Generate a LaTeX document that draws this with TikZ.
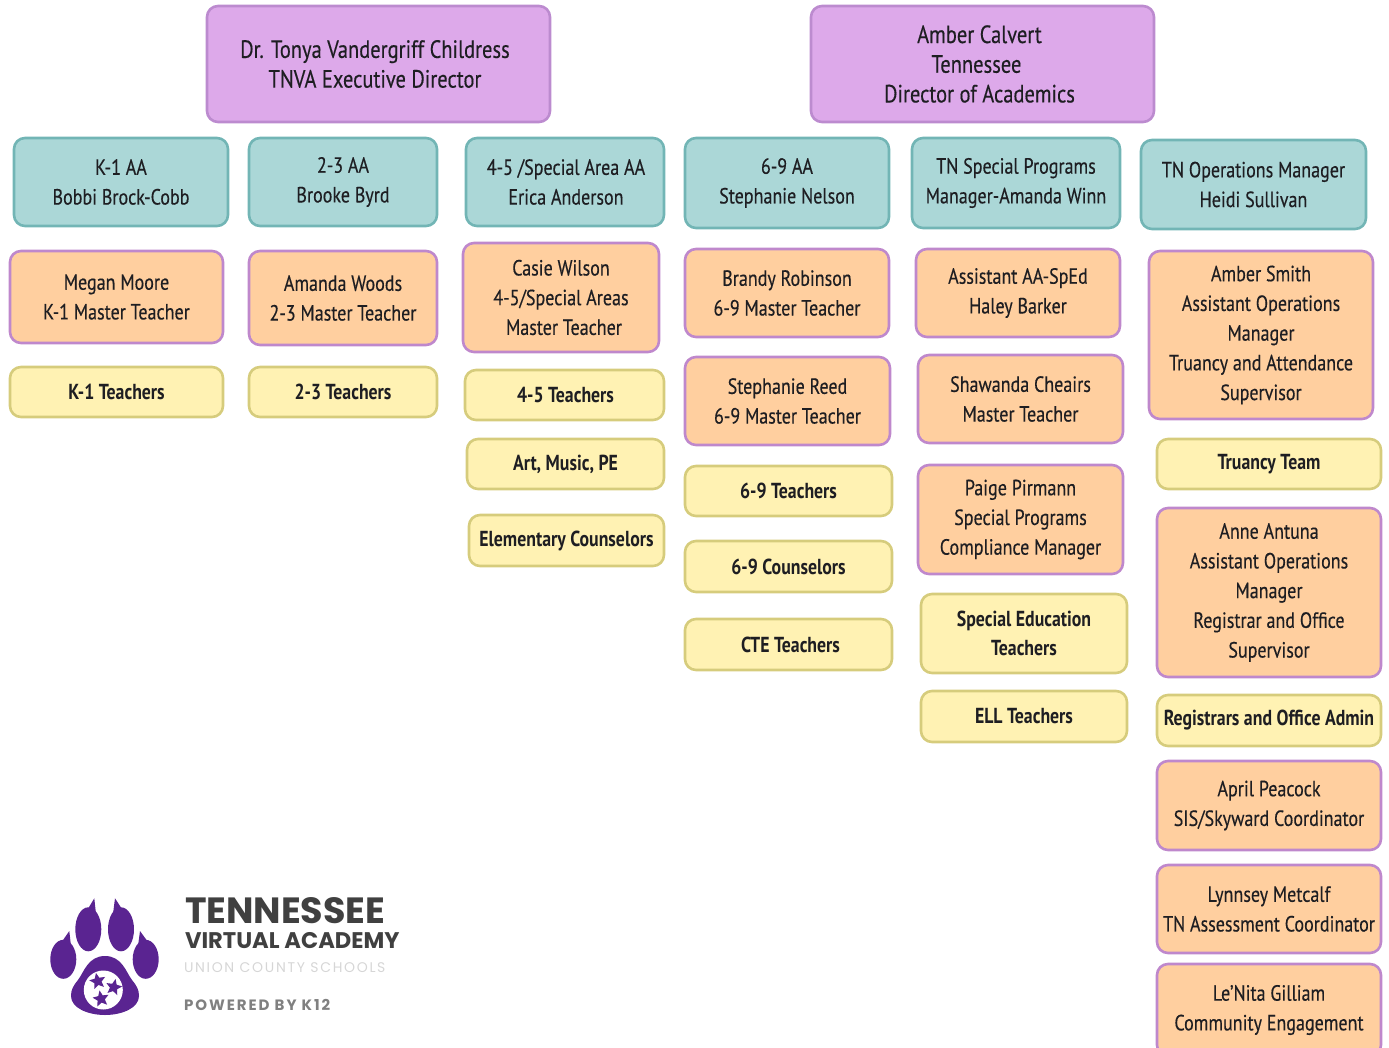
\documentclass[tikz,border=0pt]{standalone}
\usepackage{fontspec}
\setmainfont[FakeStretch=0.82,UprightFeatures={FakeBold=0.3}]{PT Sans}
\newfontfamily\logofont{Poppins}
\usetikzlibrary{shapes.geometric}
\definecolor{tealf}{HTML}{ABD7D7}\definecolor{teald}{HTML}{72B5B5}
\definecolor{oranf}{HTML}{FFCF9F}\definecolor{orand}{HTML}{BF88CC}
\definecolor{yelf}{HTML}{FFF2B3}\definecolor{yeld}{HTML}{D6CC7C}
\definecolor{purf}{HTML}{DDA9EA}\definecolor{purd}{HTML}{BC8BCF}
\definecolor{txt}{HTML}{1E1E22}\definecolor{paw}{HTML}{5A2491}
\tikzset{
 card/.style={rounded corners=11pt,line width=2.6pt,inner sep=0pt,outer sep=0pt,align=center,text=txt,
   font=\fontsize{22}{29.7}\selectfont},
 topcard/.style={card,fill=purf,draw=purd,font=\fontsize{25}{29.7}\selectfont},
 aacard/.style={card,fill=tealf,draw=teald},
 mtcard/.style={card,fill=oranf,draw=orand},
 teamcard/.style={card,fill=yelf,draw=yeld,font=\fontsize{21.7}{29.7}\bfseries\selectfont},
 logotext/.style={anchor=west,inner sep=0pt,outer sep=0pt,font=\logofont},
 starmark/.style={star,star points=5,star point ratio=2.2,fill=paw,inner sep=0pt,minimum size=17pt,draw=none}
}
\newcommand{\bx}[7]{%
 \pgfmathsetmacro{\cxx}{(#3+#5)/2}\pgfmathsetmacro{\cyy}{(#4+#6)/2}%
 \pgfmathsetmacro{\www}{#5-#3}\pgfmathsetmacro{\hhh}{#6-#4}%
 \node[#2,minimum width=\www pt,minimum height=\hhh pt] (#1) at (\cxx,\cyy) {#7};}
\newcommand{\shl}[1]{\hspace*{-#1pt}}
\begin{document}
\begin{tikzpicture}[x=1pt,y=-1pt]
\useasboundingbox (0,0) rectangle (1389,1048);
\clip (0,0) rectangle (1389,1048);
\bx{dir1}{topcard}{207}{6}{550}{122}{\shl{7}Dr. Tonya Vandergriff Childress\\\shl{7}TNVA Executive Director}
\bx{dir2}{topcard}{811}{6}{1154}{122}{\shl{6}Amber Calvert\\\shl{12}Tennessee\\\shl{6}Director of Academics}
\bx{aa1}{aacard}{14}{138}{228}{226}{K-1 AA\\Bobbi Brock-Cobb}
\bx{aa2}{aacard}{249}{138}{437}{226}{2-3 AA\\Brooke Byrd}
\bx{aa3}{aacard}{466}{138}{664}{226}{\hspace*{2pt}4-5 /Special Area AA\\\hspace*{2pt}Erica Anderson}
\bx{aa4}{aacard}{685}{138}{889}{228}{6-9 AA\\Stephanie Nelson}
\bx{aa5}{aacard}{912}{138}{1120}{228}{TN Special Programs\\Manager-Amanda Winn}
\bx{aa6}{aacard}{1141}{140}{1366}{229}{TN Operations Manager\\Heidi Sullivan}
\bx{mt1}{mtcard}{10}{251}{223}{343}{Megan Moore\\K-1 Master Teacher}
\bx{mt2}{mtcard}{249}{251}{437}{345}{Amanda Woods\\2-3 Master Teacher}
\bx{mt3}{mtcard}{463}{243}{659}{352}{Casie Wilson\\4-5/Special Areas\\\hspace*{6pt}Master Teacher}
\bx{mt4}{mtcard}{685}{249}{889}{337}{Brandy Robinson\\6-9 Master Teacher}
\bx{mt5}{mtcard}{685}{357}{890}{445}{Stephanie Reed\\6-9 Master Teacher}
\bx{mt6}{mtcard}{916}{249}{1120}{337}{Assistant AA-SpEd\\Haley Barker}
\bx{mt7}{mtcard}{918}{355}{1123}{443}{Shawanda Cheairs\\Master Teacher}
\bx{mt8}{mtcard}{918}{465}{1123}{574}{Paige Pirmann\\Special Programs\\Compliance Manager}
\bx{mt9}{mtcard}{1149}{251}{1373}{419}{Amber Smith\\Assistant Operations\\Manager\\Truancy and Attendance\\Supervisor}
\bx{mt10}{mtcard}{1157}{508}{1381}{677}{Anne Antuna\\Assistant Operations\\Manager\\Registrar and Office\\Supervisor}
\bx{mt11}{mtcard}{1157}{761}{1381}{850}{April Peacock\\SIS/Skyward Coordinator}
\bx{mt12}{mtcard}{1157}{865}{1381}{953}{Lynnsey Metcalf\\TN Assessment Coordinator}
\bx{mt13}{mtcard}{1157}{964}{1381}{1056}{Le'Nita Gilliam\\Community Engagement}
\bx{tm1}{teamcard}{10}{367}{223}{417}{K-1 Teachers}
\bx{tm2}{teamcard}{249}{367}{437}{417}{2-3 Teachers}
\bx{tm3}{teamcard}{465}{370}{664}{420}{\hspace*{2pt}4-5 Teachers}
\bx{tm4}{teamcard}{467}{439}{664}{489}{Art, Music, PE}
\bx{tm5}{teamcard}{469}{515}{664}{566}{Elementary Counselors}
\bx{tm6}{teamcard}{685}{466}{892}{516}{6-9 Teachers}
\bx{tm7}{teamcard}{685}{541}{892}{592}{6-9 Counselors}
\bx{tm8}{teamcard}{685}{619}{892}{670}{\hspace*{4pt}CTE Teachers}
\bx{tm9}{teamcard}{921}{594}{1127}{673}{Special Education\\Teachers}
\bx{tm10}{teamcard}{921}{691}{1127}{742}{ELL Teachers}
\bx{tm11}{teamcard}{1157}{439}{1381}{489}{Truancy Team}
\bx{tm12}{teamcard}{1157}{695}{1381}{746}{Registrars and Office Admin}
% paw logo
\fill[paw] (88.3,929.3) ellipse [x radius=13,y radius=22];
\fill[paw] (121,929.3) ellipse [x radius=13,y radius=22];
\fill[paw] (63.3,959.3) ellipse [x radius=13,y radius=19.5];
\fill[paw] (145.7,959.3) ellipse [x radius=13,y radius=19.5];
\fill[paw] (94.3,898.3) -- (87.3,910) -- (96,914) -- cycle;
\fill[paw] (115,898.3) -- (122.7,910) -- (113,914) -- cycle;
\fill[paw] (69.3,931) -- (61.7,942) -- (71,946) -- cycle;
\fill[paw] (140,931) -- (148,942) -- (138,946) -- cycle;
\fill[paw] (105,956) .. controls (88,956) and (84,972) .. (78,980)
  .. controls (73,986) and (71,990) .. (71,996)
  .. controls (71,1008) and (88,1015) .. (105,1015)
  .. controls (122,1015) and (139,1008) .. (139,996)
  .. controls (139,990) and (137,986) .. (132,980)
  .. controls (126,972) and (122,956) .. (105,956) -- cycle;
\fill[white] (103.3,990) circle [radius=19.5];
\node[starmark,rotate=12] (s1) at (97.7,981.2) {};
\node[starmark,rotate=-12] (s2) at (113.8,987.3) {};
\node[starmark,rotate=10] (s3) at (101,998.8) {};
\node[logotext,text=black!75] (l1) at (185,911) {\fontsize{36.5}{36}\selectfont\bfseries TENNESSEE};
\node[logotext,text=black!75] (l2) at (185,941) {\fontsize{22.6}{22}\selectfont\bfseries VIRTUAL ACADEMY};
\node[logotext,text=black!16] (l3) at (184,968) {\fontsize{14}{14}\selectfont\addfontfeature{LetterSpace=12}UNION COUNTY SCHOOLS};
\node[logotext,text=black!50] (l4) at (184,1004.5) {\fontsize{15}{15}\selectfont\bfseries\addfontfeature{LetterSpace=13}POWERED BY K12};
\end{tikzpicture}
\end{document}
